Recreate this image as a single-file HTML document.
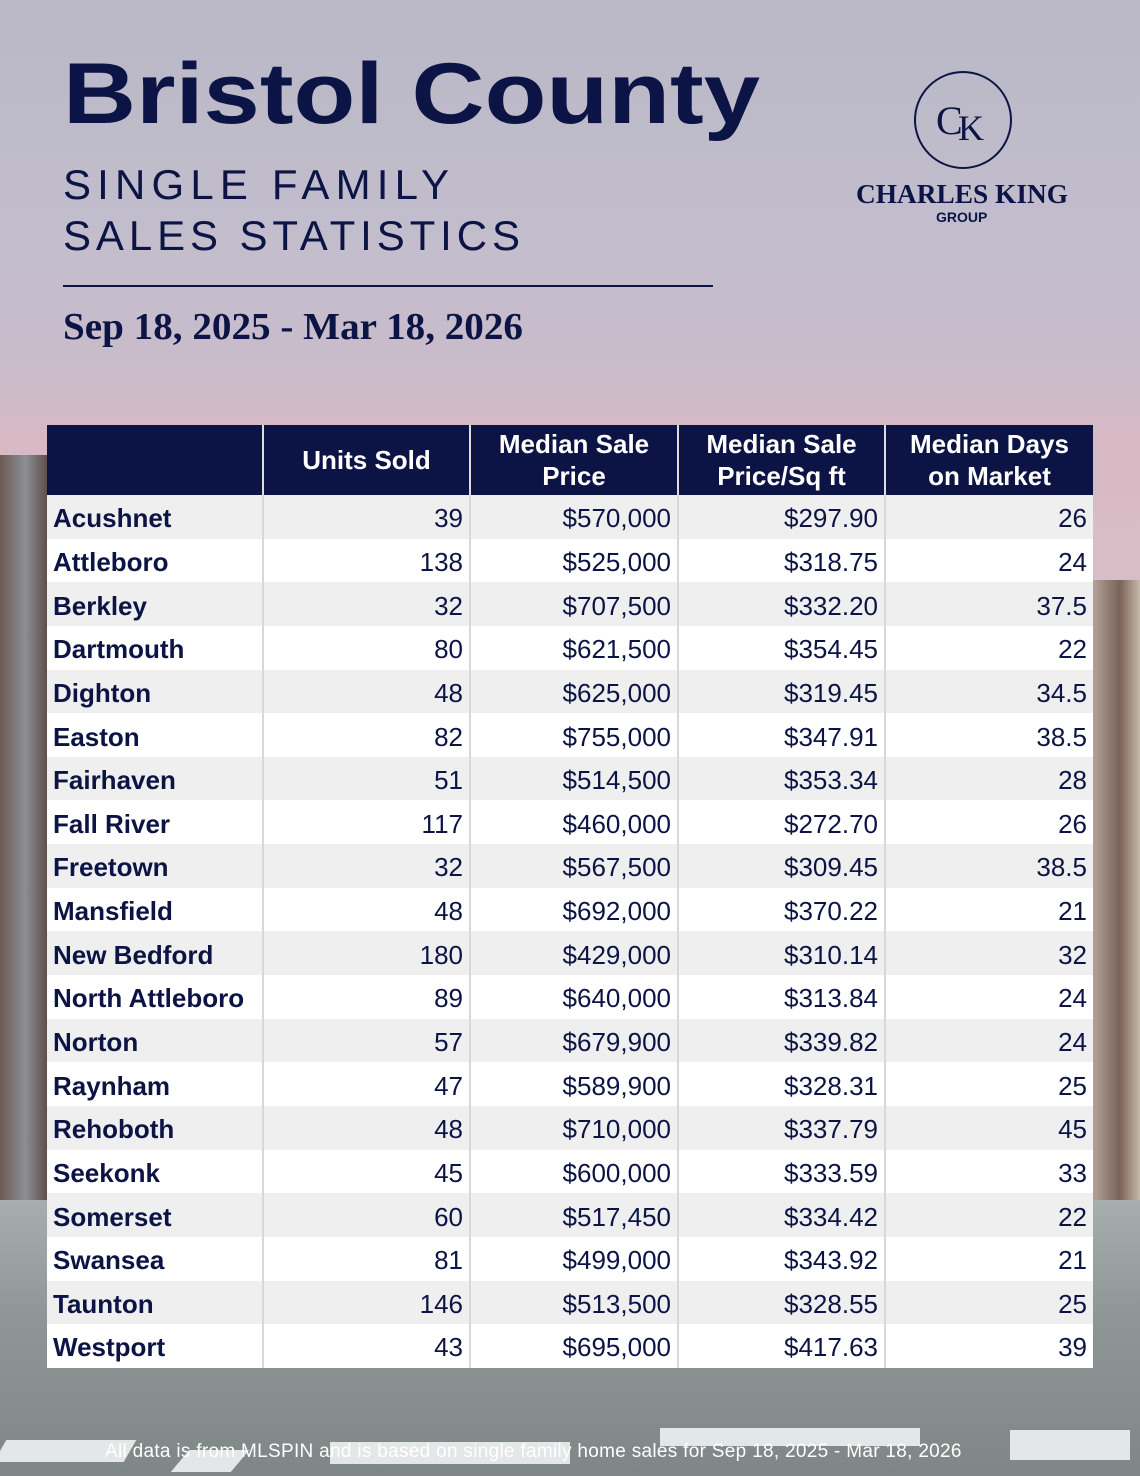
<!DOCTYPE html>
<html><head><meta charset="utf-8"><style>
*{margin:0;padding:0;box-sizing:border-box}
body{width:1140px;height:1476px;overflow:hidden;position:relative;font-family:"Liberation Sans",sans-serif;
background:linear-gradient(180deg,#b9b8c6 0%,#c2bdcc 15%,#c9bccb 25%,#d8b9c4 30%,#d9c0c8 45%,#c7c3c6 65%,#b4b7b8 78%,#9da4a6 85%,#8e9596 100%);}
.bl{position:absolute;left:0;top:455px;width:50px;height:750px;background:linear-gradient(90deg,#6d5a55,#8c8f96 50%,#5a4740);}
.br{position:absolute;right:0;top:580px;width:50px;height:620px;background:linear-gradient(90deg,#b9a89e,#7a6358 60%,#c8b9ad);}
.road{position:absolute;left:0;top:1200px;width:1140px;height:276px;background:linear-gradient(180deg,#a7aeae,#8f9797 40%,#7e8686);}
.stripe{position:absolute;background:#e4e7e7;height:22px;top:1440px}
.tbl{position:absolute;left:47px;top:425px;width:1046px}
.hd{height:70px;background:#0c1445;display:flex}
.hd div{color:#fff;font-weight:bold;font-size:26px;text-align:center;display:flex;align-items:center;justify-content:center;line-height:32px;border-right:2px solid #ddd}
.row{display:flex;height:43.65px}
.row:nth-child(odd){background:#efefef}
.row:nth-child(even){background:#fff}
.row div{height:100%;display:flex;align-items:center;font-size:26px;color:#0c1445;border-right:2px solid #d8d8d8;justify-content:flex-end;padding-right:6px;padding-top:4px}
.row div:first-child{justify-content:flex-start;padding-left:6px;font-weight:bold}
.c1{width:217px}.c2{width:207px}.c3{width:208px}.c4{width:207px}.c5{width:207px;border-right:none!important}
</style></head><body>
<div class="bl"></div><div class="br"></div><div class="road"></div>
<div class="stripe" style="left:0;width:130px;transform:skewX(-30deg)"></div>
<div class="stripe" style="left:180px;width:60px;top:1450px;transform:skewX(-40deg)"></div>
<div class="stripe" style="left:330px;width:240px;top:1442px"></div>
<div class="stripe" style="left:660px;width:260px;top:1428px;height:18px"></div>
<div class="stripe" style="left:1010px;width:120px;top:1430px;height:30px"></div>
<svg width="1140" height="420" style="position:absolute;left:0;top:0">
<text x="63" y="123" font-family="Liberation Sans" font-weight="bold" font-size="86" fill="#0c1445" textLength="697" lengthAdjust="spacingAndGlyphs">Bristol County</text>
<text x="63" y="199" font-family="Liberation Sans" font-size="42" fill="#0c1445" textLength="392" lengthAdjust="spacing" letter-spacing="6">SINGLE FAMILY</text>
<text x="63" y="250" font-family="Liberation Sans" font-size="42" fill="#0c1445" textLength="457" lengthAdjust="spacing">SALES STATISTICS</text>
<line x1="63" y1="286" x2="713" y2="286" stroke="#0c1445" stroke-width="2"/>
<text x="63" y="339" font-family="Liberation Serif" font-weight="bold" font-size="38" fill="#0c1445" textLength="460" lengthAdjust="spacingAndGlyphs">Sep 18, 2025 - Mar 18, 2026</text>
<circle cx="963" cy="120" r="48" fill="none" stroke="#0c1445" stroke-width="2"/>
<text x="936" y="134" font-family="Liberation Serif" font-size="40" fill="#0c1445">C</text>
<text x="958" y="140" font-family="Liberation Serif" font-size="36" fill="#0c1445">K</text>
<text x="856" y="203" font-family="Liberation Serif" font-weight="bold" font-size="27" fill="#0c1445" textLength="212" lengthAdjust="spacingAndGlyphs">CHARLES KING</text>
<text x="936" y="222" font-family="Liberation Sans" font-weight="bold" font-size="14" fill="#0c1445">GROUP</text>
</svg>
<div class="tbl">
<div class="hd"><div class="c1"></div><div class="c2">Units Sold</div><div class="c3">Median Sale<br>Price</div><div class="c4">Median Sale<br>Price/Sq ft</div><div class="c5">Median Days<br>on Market</div></div>
<div>
<div class="row"><div class="c1">Acushnet</div><div class="c2">39</div><div class="c3">$570,000</div><div class="c4">$297.90</div><div class="c5">26</div></div>
<div class="row"><div class="c1">Attleboro</div><div class="c2">138</div><div class="c3">$525,000</div><div class="c4">$318.75</div><div class="c5">24</div></div>
<div class="row"><div class="c1">Berkley</div><div class="c2">32</div><div class="c3">$707,500</div><div class="c4">$332.20</div><div class="c5">37.5</div></div>
<div class="row"><div class="c1">Dartmouth</div><div class="c2">80</div><div class="c3">$621,500</div><div class="c4">$354.45</div><div class="c5">22</div></div>
<div class="row"><div class="c1">Dighton</div><div class="c2">48</div><div class="c3">$625,000</div><div class="c4">$319.45</div><div class="c5">34.5</div></div>
<div class="row"><div class="c1">Easton</div><div class="c2">82</div><div class="c3">$755,000</div><div class="c4">$347.91</div><div class="c5">38.5</div></div>
<div class="row"><div class="c1">Fairhaven</div><div class="c2">51</div><div class="c3">$514,500</div><div class="c4">$353.34</div><div class="c5">28</div></div>
<div class="row"><div class="c1">Fall River</div><div class="c2">117</div><div class="c3">$460,000</div><div class="c4">$272.70</div><div class="c5">26</div></div>
<div class="row"><div class="c1">Freetown</div><div class="c2">32</div><div class="c3">$567,500</div><div class="c4">$309.45</div><div class="c5">38.5</div></div>
<div class="row"><div class="c1">Mansfield</div><div class="c2">48</div><div class="c3">$692,000</div><div class="c4">$370.22</div><div class="c5">21</div></div>
<div class="row"><div class="c1">New Bedford</div><div class="c2">180</div><div class="c3">$429,000</div><div class="c4">$310.14</div><div class="c5">32</div></div>
<div class="row"><div class="c1">North Attleboro</div><div class="c2">89</div><div class="c3">$640,000</div><div class="c4">$313.84</div><div class="c5">24</div></div>
<div class="row"><div class="c1">Norton</div><div class="c2">57</div><div class="c3">$679,900</div><div class="c4">$339.82</div><div class="c5">24</div></div>
<div class="row"><div class="c1">Raynham</div><div class="c2">47</div><div class="c3">$589,900</div><div class="c4">$328.31</div><div class="c5">25</div></div>
<div class="row"><div class="c1">Rehoboth</div><div class="c2">48</div><div class="c3">$710,000</div><div class="c4">$337.79</div><div class="c5">45</div></div>
<div class="row"><div class="c1">Seekonk</div><div class="c2">45</div><div class="c3">$600,000</div><div class="c4">$333.59</div><div class="c5">33</div></div>
<div class="row"><div class="c1">Somerset</div><div class="c2">60</div><div class="c3">$517,450</div><div class="c4">$334.42</div><div class="c5">22</div></div>
<div class="row"><div class="c1">Swansea</div><div class="c2">81</div><div class="c3">$499,000</div><div class="c4">$343.92</div><div class="c5">21</div></div>
<div class="row"><div class="c1">Taunton</div><div class="c2">146</div><div class="c3">$513,500</div><div class="c4">$328.55</div><div class="c5">25</div></div>
<div class="row"><div class="c1">Westport</div><div class="c2">43</div><div class="c3">$695,000</div><div class="c4">$417.63</div><div class="c5">39</div></div>
</div></div>
<div style="position:absolute;left:105px;top:1441px;font-size:19px;color:#fff;white-space:nowrap;letter-spacing:0.3px">All data is from MLSPIN and is based on single family home sales for Sep 18, 2025 - Mar 18, 2026</div>
</body></html>
